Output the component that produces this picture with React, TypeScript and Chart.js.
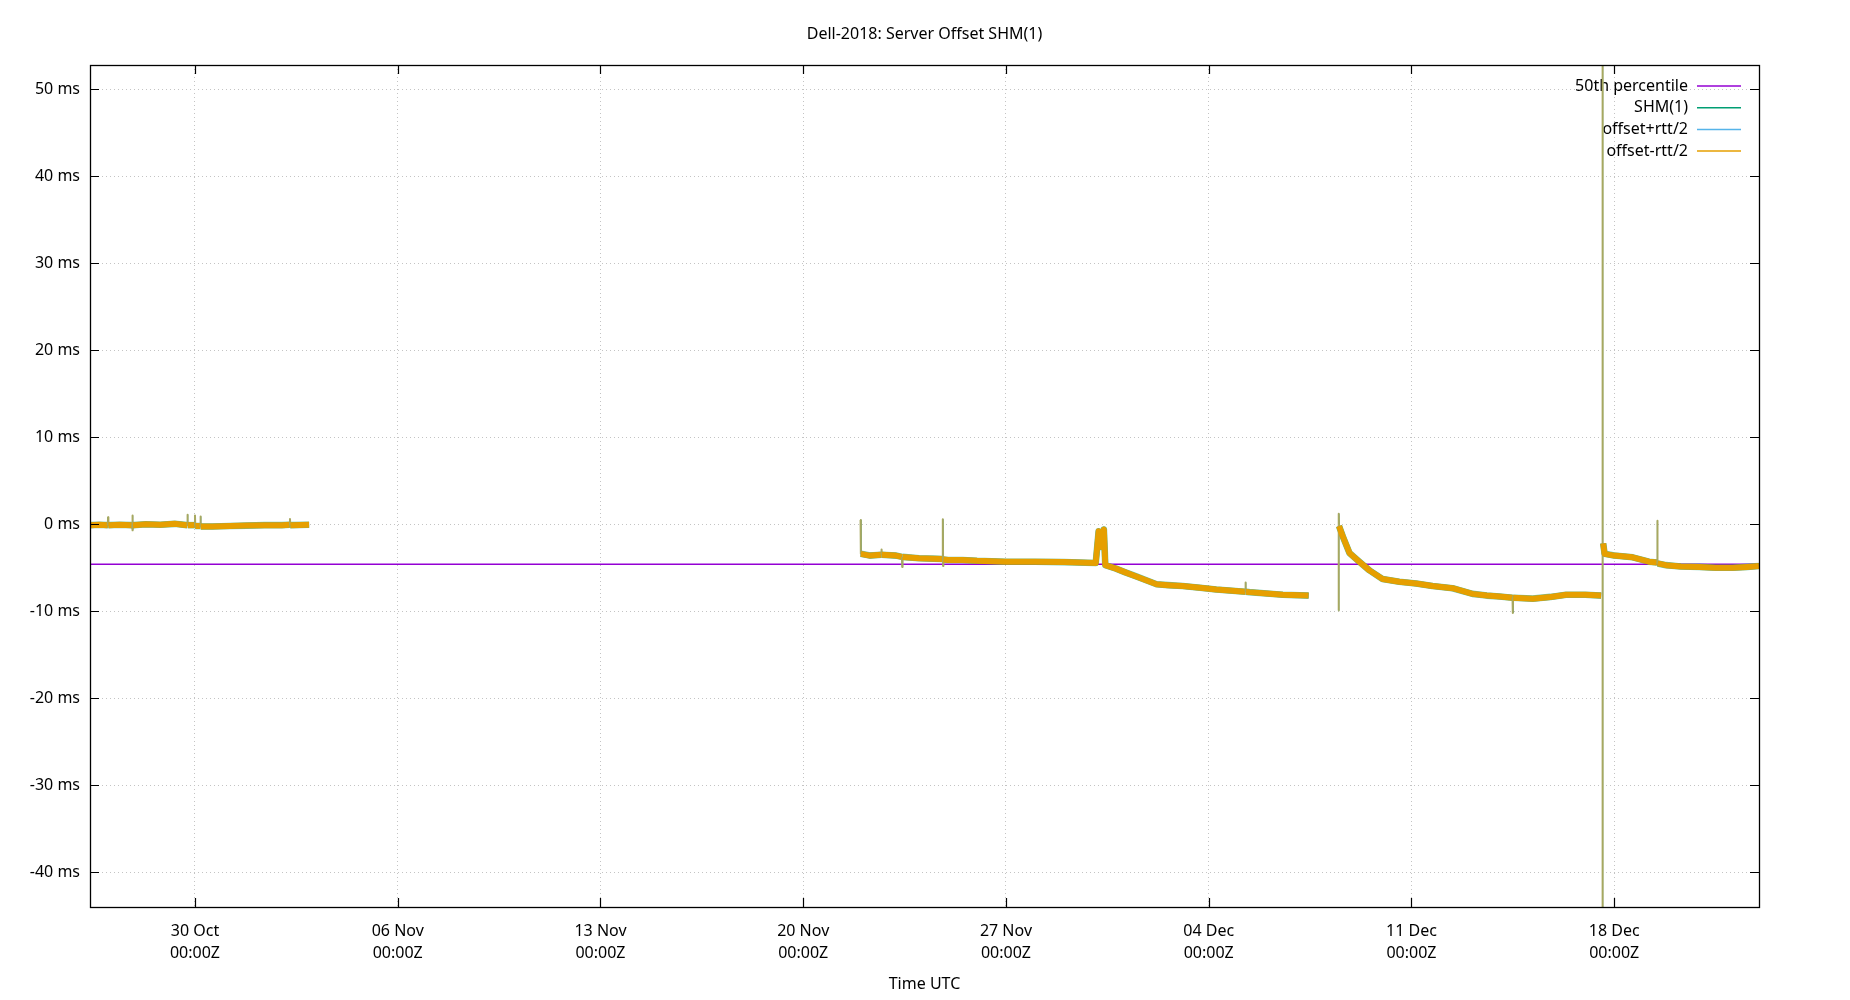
import React, { useEffect, useRef } from 'react';
import { Chart, registerables } from 'chart.js';

Chart.register(...registerables);

const FONT = '"Noto Sans", "Open Sans", sans-serif';

// x values are days since 30 Oct 00:00Z
const xMinDay = -3.625;
const xMaxDay = 54;
const yMinMs = -44;
const yMaxMs = 52.8;

const xTickDays = [0, 7, 14, 21, 28, 35, 42, 49];
const xTickDates = ['30 Oct', '06 Nov', '13 Nov', '20 Nov', '27 Nov', '04 Dec', '11 Dec', '18 Dec'];
const xTickTime = '00:00Z';
const yTickValues = [-40, -30, -20, -10, 0, 10, 20, 30, 40, 50];

const percentile50Ms = -4.6;

const sampleDays = [
  -3.62, -3.3, -3.01, -3.0, -2.99, -2.6, -2.17, -2.16, -2.15, -2.14, -1.7, -1.2, -0.7,
  -0.27, -0.26, -0.25, -0.01, 0.0, 0.01, 0.18, 0.19, 0.2, 0.6, 1.2, 1.8, 2.4, 3.0,
  3.27, 3.28, 3.29, 3.94,
  10.0,
  22.98, 22.99, 23.3, 23.69, 23.7, 23.71, 24.2, 24.41, 24.42, 24.43, 25.0, 25.5,
  25.81, 25.82, 25.83, 25.84, 26.0, 26.5, 27.0, 28.0, 29.0, 30.0, 31.1, 31.2, 31.3,
  31.38, 31.43, 31.8, 32.1, 32.5, 33.2, 33.6, 34.1, 34.7, 35.26, 36.26, 36.27, 36.28,
  36.4, 37.0, 37.56, 38.45,
  39.0,
  39.48, 39.49, 39.5, 39.63, 39.86, 40.2, 40.55, 41.0, 41.58, 42.16, 42.73, 43.42,
  44.11, 44.6, 45.04, 45.49, 45.5, 45.51, 46.19, 46.8, 47.34, 48.0, 48.55,
  48.57, 48.6, 48.601, 48.61,
  48.62, 48.67, 49.0, 49.64, 50.2, 50.48, 50.49, 50.5, 50.79, 51.3, 51.94, 52.5,
  53.09, 53.6, 54.0,
];

const offsetMs: (number | null)[] = [
  -0.1, -0.05, -0.1, 0.8, -0.1, -0.05, -0.1, 1.0, -0.7, -0.1, 0.0, -0.05, 0.05,
  -0.1, 1.1, -0.1, -0.1, 1.0, -0.2, -0.2, 0.9, -0.25, -0.25, -0.2, -0.15, -0.1, -0.1,
  -0.05, 0.6, -0.1, -0.05,
  null,
  0.5, -3.4, -3.6, -3.5, -2.9, -3.5, -3.6, -3.75, -4.9, -3.75, -3.9, -3.95,
  -4.0, 0.57, -4.8, -4.05, -4.1, -4.1, -4.2, -4.3, -4.3, -4.35, -4.45, -0.8, -2.6,
  -0.6, -4.7, -5.1, -5.5, -6.0, -6.9, -7.0, -7.1, -7.3, -7.5, -7.75, -6.7, -7.75,
  -7.8, -7.95, -8.1, -8.2,
  null,
  -9.9, 1.2, -0.2, -1.4, -3.3, -4.3, -5.3, -6.3, -6.6, -6.8, -7.1, -7.35,
  -8.0, -8.2, -8.3, -8.45, -10.2, -8.45, -8.55, -8.35, -8.1, -8.1, -8.2,
  null, -100, 100, null,
  -2.2, -3.4, -3.6, -3.8, -4.3, -4.4, 0.4, -4.5, -4.7, -4.85, -4.9, -5.0,
  -5.0, -4.9, -4.8,
];

const seriesNames = ['50th percentile', 'SHM(1)', 'offset+rtt/2', 'offset-rtt/2'];
const seriesColors = ['#9400d3', '#009e73', '#56b4e9', '#e69f00'];
const SPIKE_COLOR = '#a8a860';

function buildPoints(days: number[], vals: (number | null)[]) {
  return days.map((d, i) => ({ x: d, y: vals[i] }));
}

function isSpike(ctx: any) {
  const dx = Math.abs(ctx.p1.parsed.x - ctx.p0.parsed.x);
  const dy = Math.abs(ctx.p1.parsed.y - ctx.p0.parsed.y);
  return dx < 0.015 && dy > 0.3;
}

const framePlugin = {
  id: 'gnuFrame',
  beforeDatasetsDraw(chart: any) {
    const { ctx, chartArea } = chart;
    ctx.save();
    ctx.font = `16px ${FONT}`;
    ctx.textAlign = 'right';
    ctx.textBaseline = 'middle';
    seriesNames.forEach((name, i) => {
      const y = chartArea.top + 21 + i * 21.7;
      ctx.fillStyle = '#000';
      ctx.fillText(name, chartArea.right - 71, y);
      ctx.strokeStyle = seriesColors[i];
      ctx.lineWidth = 1.5;
      ctx.beginPath();
      ctx.moveTo(chartArea.right - 62, y);
      ctx.lineTo(chartArea.right - 18, y);
      ctx.stroke();
    });
    ctx.restore();
  },
  afterDraw(chart: any) {
    const { ctx, chartArea } = chart;
    const { left, right, top, bottom } = chartArea;
    ctx.save();
    ctx.strokeStyle = '#000';
    ctx.lineWidth = 1.2;
    ctx.beginPath();
    xTickDays.forEach((d) => {
      const px = Math.round(chart.scales.x.getPixelForValue(d)) + 0.5;
      ctx.moveTo(px, bottom);
      ctx.lineTo(px, bottom - 9);
      ctx.moveTo(px, top);
      ctx.lineTo(px, top + 9);
    });
    yTickValues.forEach((v) => {
      const py = Math.round(chart.scales.y.getPixelForValue(v)) + 0.5;
      ctx.moveTo(left, py);
      ctx.lineTo(left + 9, py);
      ctx.moveTo(right, py);
      ctx.lineTo(right - 9, py);
    });
    ctx.stroke();
    ctx.lineWidth = 1.3;
    ctx.strokeRect(Math.round(left) + 0.5, Math.round(top) + 0.5, Math.round(right - left), Math.round(bottom - top));
    ctx.restore();
  },
};

export default function App() {
  const canvasRef = useRef<HTMLCanvasElement>(null);

  useEffect(() => {
    const canvas = canvasRef.current;
    if (!canvas) return;
    const pts = buildPoints(sampleDays, offsetMs);
    const chart = new Chart(canvas, {
      type: 'line',
      data: {
        datasets: [
          {
            label: seriesNames[0],
            data: [
              { x: xMinDay, y: percentile50Ms },
              { x: xMaxDay, y: percentile50Ms },
            ],
            borderColor: seriesColors[0],
            borderWidth: 1.5,
            pointRadius: 0,
            order: 3,
          },
          {
            label: seriesNames[1],
            data: pts,
            borderColor: 'rgba(0,158,115,0.55)',
            borderWidth: 6.6,
            pointRadius: 0,
            order: 1,
            borderJoinStyle: 'round',
            segment: { borderWidth: (c: any) => (isSpike(c) ? 1 : undefined) },
          },
          {
            label: seriesNames[2],
            data: pts,
            borderColor: seriesColors[2],
            borderWidth: 5.5,
            pointRadius: 0,
            order: 2,
            borderJoinStyle: 'round',
            segment: { borderWidth: (c: any) => (isSpike(c) ? 1 : undefined) },
          },
          {
            label: seriesNames[3],
            data: pts,
            borderColor: seriesColors[3],
            borderWidth: 6,
            pointRadius: 0,
            order: 0,
            borderJoinStyle: 'round',
            segment: {
              borderWidth: (c: any) => (isSpike(c) ? 2 : undefined),
              borderColor: (c: any) => (isSpike(c) ? SPIKE_COLOR : undefined),
            },
          },
        ],
      },
      options: {
        responsive: false,
        animation: false,
        devicePixelRatio: 1,
        spanGaps: false,
        layout: { padding: { left: 0, right: 91, top: 0, bottom: 0 } },
        plugins: {
          legend: { display: false },
          tooltip: { enabled: false },
          title: {
            display: true,
            fullSize: false,
            text: 'Dell-2018: Server Offset SHM(1)',
            color: '#000',
            font: { family: FONT, size: 16, weight: 'normal', lineHeight: 1.375 },
            padding: { top: 23, bottom: 20 },
          },
        },
        scales: {
          x: {
            type: 'linear',
            min: xMinDay,
            max: xMaxDay,
            afterBuildTicks: (s: any) => {
              s.ticks = xTickDays.map((v) => ({ value: v }));
            },
            afterFit: (s: any) => {
              s.height = 93;
            },
            ticks: {
              autoSkip: false,
              maxRotation: 0,
              padding: 13,
              color: '#000',
              font: { family: FONT, size: 16, lineHeight: 1.375 },
              callback: (v: any) => {
                const i = xTickDays.indexOf(Number(v));
                return i >= 0 ? [xTickDates[i], xTickTime] : '';
              },
            },
            grid: { color: '#c4c4c4', lineWidth: 1, drawTicks: false },
            border: { display: false, dash: [1, 3] },
            title: {
              display: true,
              text: 'Time UTC',
              color: '#000',
              font: { family: FONT, size: 16, lineHeight: 1.375 },
              padding: { top: 0, bottom: 5 },
            },
          },
          y: {
            type: 'linear',
            min: yMinMs,
            max: yMaxMs,
            afterBuildTicks: (s: any) => {
              s.ticks = yTickValues.map((v) => ({ value: v }));
            },
            afterFit: (s: any) => {
              s.width = 90;
            },
            ticks: {
              padding: 10,
              color: '#000',
              font: { family: FONT, size: 16, lineHeight: 1.375 },
              callback: (v: any) => `${v} ms`,
            },
            grid: { color: '#c4c4c4', lineWidth: 1, drawTicks: false },
            border: { display: false, dash: [1, 3] },
          },
        },
      },
      plugins: [framePlugin],
    } as any);
    return () => chart.destroy();
  }, []);

  return (
    <div style={{ position: 'fixed', left: 0, top: 0, width: 1850, height: 1000, background: '#fff' }}>
      <canvas ref={canvasRef} width={1850} height={1000} style={{ display: 'block' }} />
    </div>
  );
}
